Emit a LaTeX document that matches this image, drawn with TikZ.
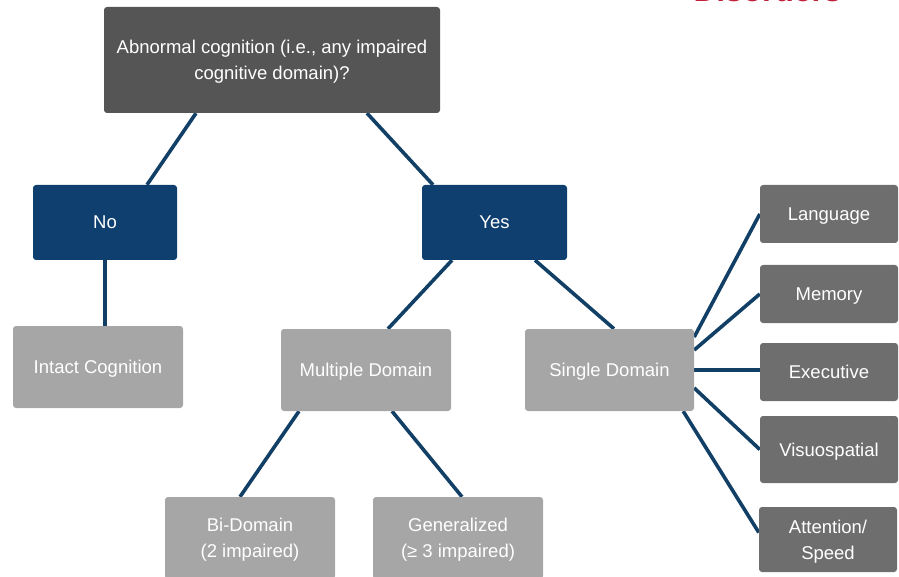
\documentclass[tikz,border=0pt]{standalone}
\usepackage{fontspec}
\setmainfont{Liberation Sans}
\usetikzlibrary{calc,backgrounds}
\definecolor{topgray}{HTML}{555555}
\definecolor{navy}{HTML}{0E3F6E}
\definecolor{linkblue}{HTML}{123F66}
\definecolor{lightgray}{HTML}{A6A6A6}
\definecolor{midgray}{HTML}{6E6E6E}
\definecolor{logored}{HTML}{C0203A}
\tikzset{
  box/.style={rounded corners=3pt, inner sep=0pt, align=center, text=white,
    text depth=0pt, font=\fontsize{18.5}{26}\selectfont},
  topbox/.style={box, fill=topgray},
  bluebox/.style={box, fill=navy},
  lightbox/.style={box, fill=lightgray},
  midbox/.style={box, fill=midgray},
  link/.style={draw=linkblue, line width=3.6pt}
}
\begin{document}
\begin{tikzpicture}[x=1pt,y=-1pt]
\clip (0,0) rectangle (899,577);
\node[anchor=base west, text=logored, font=\bfseries\fontsize{31.7}{32}\selectfont] (logo) at (690,2) {Disorders};

\node[topbox, minimum width=336pt, minimum height=106pt] (top) at (272,60) {Abnormal cognition (i.e., any impaired\\cognitive domain)?};
\node[bluebox, minimum width=144pt, minimum height=75pt] (no) at (105,222.5) {No};
\node[bluebox, minimum width=145pt, minimum height=75pt] (yes) at (494.5,222.5) {Yes};
\node[lightbox, minimum width=170pt, minimum height=82pt] (intact) at (98,367) {Intact Cognition};
\node[lightbox, minimum width=170pt, minimum height=82pt] (multi) at (366,370) {Multiple Domain};
\node[lightbox, minimum width=169pt, minimum height=82pt] (single) at (609.5,370) {Single Domain};
\node[lightbox, minimum width=170pt, minimum height=82pt] (bi) at (250,538) {Bi-Domain\\(2 impaired)};
\node[lightbox, minimum width=170pt, minimum height=82pt] (gen) at (458,538) {Generalized\\(≥ 3 impaired)};
\node[midbox, minimum width=138pt, minimum height=58pt] (lang) at (829,214) {Language};
\node[midbox, minimum width=138pt, minimum height=58pt] (mem) at (829,294) {Memory};
\node[midbox, minimum width=138pt, minimum height=58pt] (exec) at (829,372) {Executive};
\node[midbox, minimum width=138pt, minimum height=67pt] (visuo) at (829,449.5) {Visuospatial};
\node[midbox, minimum width=138pt, minimum height=65pt] (attn) at (828,539.5) {Attention/\\Speed};

\begin{scope}[on background layer]
\draw[link] ($(top.south)+(-76,0)$) -- ($(no.north)+(42,0)$);
\draw[link] ($(top.south)+(95,0)$) -- ($(yes.north)+(-61.5,0)$);
\draw[link] (no.south) -- (no.south |- intact.north);
\draw[link] ($(yes.south)+(-42.5,0)$) -- ($(multi.north)+(22,0)$);
\draw[link] ($(yes.south)+(40.5,0)$) -- ($(single.north)+(4.5,0)$);
\draw[link] ($(multi.south)+(-67,0)$) -- ($(bi.north)+(-10,0)$);
\draw[link] ($(multi.south)+(26,0)$) -- ($(gen.north)+(4,0)$);
\draw[link] ($(single.east)+(0,-33)$) -- (lang.west);
\draw[link] ($(single.east)+(0,-20)$) -- (mem.west);
\draw[link] (single.east) -- (single.east -| exec.west);
\draw[link] ($(single.east)+(0,18)$) -- (visuo.west);
\draw[link] ($(single.south east)+(-11,0)$) -- ($(attn.west)+(0,-7)$);
\end{scope}
\end{tikzpicture}
\end{document}
